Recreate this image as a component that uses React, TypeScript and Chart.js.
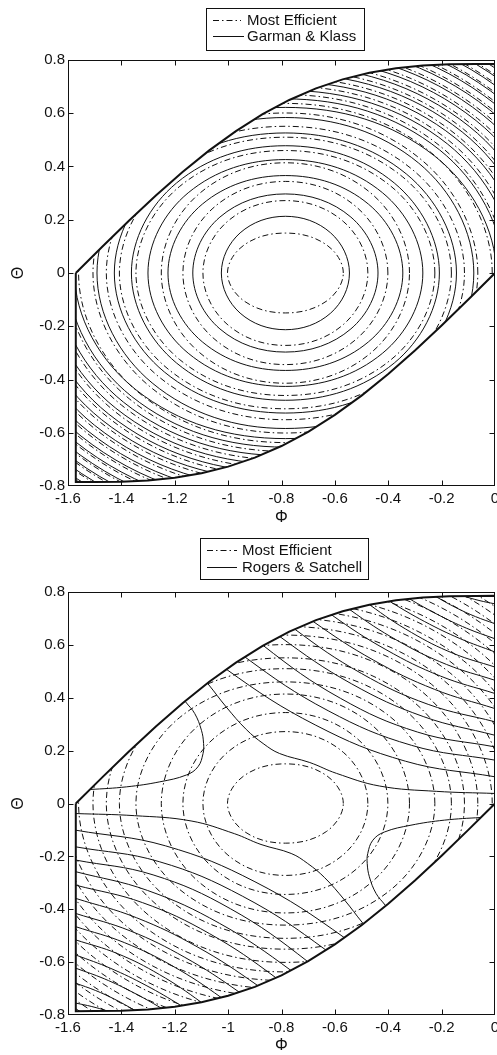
import { useEffect, useRef } from "react";
import { Chart, registerables } from "chart.js";

Chart.register(...registerables);

type Pt = [number, number];

const FONT = "'Liberation Sans', Arial, Helvetica, sans-serif";
const INK = "#111";
const DASH_DOT = [6, 3, 1.5, 3];

// Axis ticks
const PHI_TICKS = [-1.6, -1.4, -1.2, -1, -0.8, -0.6, -0.4, -0.2, 0];
const PHI_TICK_LABELS = ["-1.6", "-1.4", "-1.2", "-1", "-0.8", "-0.6", "-0.4", "-0.2", "0"];
const THETA_TICKS = [-0.8, -0.6, -0.4, -0.2, 0, 0.2, 0.4, 0.6, 0.8];
const THETA_TICK_LABELS = ["-0.8", "-0.6", "-0.4", "-0.2", "0", "0.2", "0.4", "0.6", "0.8"];

// Legend entries
const LEGEND_TOP = ["Most Efficient", "Garman & Klass"];
const LEGEND_BOTTOM = ["Most Efficient", "Rogers & Satchell"];

// Admissible (Φ, Θ) region: upper edge from (−π/2, 0) to (0, π/4), lower edge from (0, 0) to (−π/2, −π/4)
const TOP_EDGE: Pt[] = [
  [-1.5708, 0], [-1.4708, 0.0997], [-1.3708, 0.1974], [-1.2708, 0.2912], [-1.1708, 0.3793],
  [-1.0708, 0.4604], [-0.9708, 0.533], [-0.8708, 0.5964], [-0.7708, 0.6499], [-0.6708, 0.6935],
  [-0.5708, 0.7273], [-0.4708, 0.7521], [-0.3708, 0.7689], [-0.2708, 0.7789], [-0.1708, 0.7837],
  [-0.0708, 0.7853], [0, 0.7854],
];
const BOTTOM_EDGE: Pt[] = [
  [0, 0], [-0.1, -0.0997], [-0.2, -0.1974], [-0.3, -0.2912], [-0.4, -0.3793], [-0.5, -0.4604],
  [-0.6, -0.533], [-0.7, -0.5964], [-0.8, -0.6499], [-0.9, -0.6935], [-1.0, -0.7273], [-1.1, -0.7521],
  [-1.2, -0.7689], [-1.3, -0.7789], [-1.4, -0.7837], [-1.5, -0.7853], [-1.5708, -0.7854],
];
const DOMAIN: Pt[] = [...TOP_EDGE, ...BOTTOM_EDGE];

// Efficiency contours, one quadrant each: Θ = 0 crossing, diagonal point, Φ = −π/4 crossing
const MOST_EFFICIENT: Pt[][] = [
  [[-0.5684, 0], [-0.632, 0.1061], [-0.7854, 0.15]],
  [[-0.4764, 0], [-0.5669, 0.1923], [-0.7854, 0.272]],
  [[-0.4014, 0], [-0.5139, 0.2432], [-0.7854, 0.344]],
  [[-0.3204, 0], [-0.4566, 0.2927], [-0.7854, 0.414]],
  [[-0.2254, 0], [-0.3894, 0.3253], [-0.7854, 0.46]],
  [[-0.1634, 0], [-0.3456, 0.3606], [-0.7854, 0.51]],
  [[-0.1144, 0], [-0.3109, 0.3896], [-0.7854, 0.551]],
  [[-0.0644, 0], [-0.2756, 0.425], [-0.7854, 0.601]],
  [[-0.0104, 0], [-0.2374, 0.4504], [-0.7854, 0.637]],
  [[0.0396, 0], [-0.202, 0.4738], [-0.7854, 0.67]],
  [[0.0826, 0], [-0.1716, 0.4964], [-0.7854, 0.702]],
  [[0.1216, 0], [-0.1441, 0.5183], [-0.7854, 0.733]],
  [[0.1596, 0], [-0.1172, 0.5395], [-0.7854, 0.763]],
  [[0.1966, 0], [-0.091, 0.56], [-0.7854, 0.792]],
  [[0.2326, 0], [-0.0656, 0.5805], [-0.7854, 0.821]],
  [[0.2676, 0], [-0.0408, 0.6003], [-0.7854, 0.849]],
  [[0.3016, 0], [-0.0168, 0.6194], [-0.7854, 0.876]],
  [[0.3346, 0], [0.0066, 0.6378], [-0.7854, 0.902]],
  [[0.3666, 0], [0.0292, 0.6555], [-0.7854, 0.927]],
  [[0.3976, 0], [0.0511, 0.6732], [-0.7854, 0.952]],
  [[0.4286, 0], [0.073, 0.6901], [-0.7854, 0.976]],
  [[0.4586, 0], [0.0942, 0.7071], [-0.7854, 1.0]],
];

const GARMAN_KLASS: Pt[][] = [
  [[-0.5454, 0], [-0.6157, 0.1506], [-0.7854, 0.213]],
  [[-0.4384, 0], [-0.54, 0.21], [-0.7854, 0.297]],
  [[-0.3454, 0], [-0.4743, 0.2588], [-0.7854, 0.366]],
  [[-0.2704, 0], [-0.4212, 0.3012], [-0.7854, 0.426]],
  [[-0.2084, 0], [-0.3774, 0.338], [-0.7854, 0.478]],
  [[-0.1444, 0], [-0.3321, 0.3719], [-0.7854, 0.526]],
  [[-0.0794, 0], [-0.2862, 0.413], [-0.7854, 0.584]],
  [[0.0046, 0], [-0.2268, 0.4398], [-0.7854, 0.622]],
  [[0.0316, 0], [-0.2077, 0.4624], [-0.7854, 0.654]],
  [[0.0726, 0], [-0.1787, 0.4851], [-0.7854, 0.686]],
  [[0.1136, 0], [-0.1497, 0.5077], [-0.7854, 0.718]],
  [[0.1516, 0], [-0.1228, 0.5296], [-0.7854, 0.749]],
  [[0.1886, 0], [-0.0967, 0.5508], [-0.7854, 0.779]],
  [[0.2256, 0], [-0.0705, 0.572], [-0.7854, 0.809]],
  [[0.2626, 0], [-0.0444, 0.5926], [-0.7854, 0.838]],
  [[0.2976, 0], [-0.0196, 0.6124], [-0.7854, 0.866]],
  [[0.3316, 0], [0.0044, 0.6314], [-0.7854, 0.893]],
  [[0.3646, 0], [0.0278, 0.6498], [-0.7854, 0.919]],
  [[0.3956, 0], [0.0497, 0.6675], [-0.7854, 0.944]],
  [[0.4266, 0], [0.0716, 0.6852], [-0.7854, 0.969]],
  [[0.4566, 0], [0.0928, 0.7021], [-0.7854, 0.993]],
];

// Rogers & Satchell contours in the upper half; their partners follow from the point symmetry
const ROGERS_SATCHELL: Pt[][] = [
  [[-0.16, 0.8], [-0.119, 0.785], [-0.06, 0.768], [0, 0.755]],
  [[-0.275, 0.817], [-0.22, 0.782], [-0.1467, 0.741], [-0.0733, 0.707], [0, 0.68]],
  [[-0.4, 0.826], [-0.32, 0.774], [-0.2133, 0.714], [-0.1067, 0.663], [0, 0.623]],
  [[-0.494, 0.831], [-0.395, 0.765], [-0.2633, 0.688], [-0.1317, 0.624], [0, 0.573]],
  [[-0.5875, 0.848], [-0.47, 0.752], [-0.3133, 0.647], [-0.1567, 0.568], [0, 0.516]],
  [[-0.681, 0.843], [-0.545, 0.734], [-0.3633, 0.615], [-0.1817, 0.526], [0, 0.466]],
  [[-0.766, 0.835], [-0.613, 0.714], [-0.4087, 0.582], [-0.2043, 0.482], [0, 0.416]],
  [[-0.8525, 0.823], [-0.682, 0.689], [-0.4547, 0.542], [-0.2273, 0.432], [0, 0.359]],
  [[-0.9388, 0.819], [-0.751, 0.66], [-0.5007, 0.492], [-0.2503, 0.375], [0, 0.309]],
  [[-1.009, 0.801], [-0.807, 0.632], [-0.538, 0.453], [-0.269, 0.329], [0, 0.258]],
  [[-1.086, 0.796], [-0.869, 0.598], [-0.5793, 0.398], [-0.2897, 0.27], [0, 0.214]],
  [[-1.1725, 0.756], [-0.938, 0.555], [-0.6253, 0.351], [-0.3127, 0.22], [0, 0.164]],
  [[-1.259, 0.718], [-1.007, 0.508], [-0.6713, 0.296], [-0.3357, 0.16], [0, 0.101]],
  [[-1.15, 0.54], [-1.075, 0.452], [-1.007, 0.365], [-0.932, 0.28], [-0.869, 0.227], [-0.807, 0.189],
   [-0.694, 0.155], [-0.594, 0.114], [-0.432, 0.066], [-0.22, 0.046], [0, 0.038]],
  [[-1.6, 0.05], [-1.518, 0.053], [-1.381, 0.063], [-1.256, 0.082], [-1.156, 0.108], [-1.113, 0.139],
   [-1.094, 0.189], [-1.092, 0.227], [-1.1, 0.277], [-1.125, 0.34], [-1.159, 0.384], [-1.2, 0.44]],
];

// Symmetries of the variance surfaces about the centre (−π/4, 0)
const HALF_PI = Math.PI / 2;
const pointMirror = ([p, t]: Pt): Pt => [-HALF_PI - p, -t];
const phiMirror = ([p, t]: Pt): Pt => [-HALF_PI - p, t];
const thetaMirror = ([p, t]: Pt): Pt => [p, -t];

const toXY = (pts: Pt[]) => pts.map(([x, y]) => ({ x, y }));

// Close a quadrant into a ring; one extra point on each side keeps the spline smooth at the seam
function ringFromQuadrant([p0, p45, p90]: Pt[]): Pt[] {
  const ring: Pt[] = [p0, p45, p90, phiMirror(p45), phiMirror(p0), pointMirror(p45), thetaMirror(p90), thetaMirror(p45)];
  return [ring[7], ...ring, ring[0], ring[1]];
}

const BASE = {
  showLine: true,
  pointRadius: 0,
  pointHoverRadius: 0,
  borderColor: INK,
  borderWidth: 1,
  fill: false,
};

function loopDataset(q: Pt[], dash: number[]) {
  const pts = ringFromQuadrant(q);
  const last = pts.length - 1;
  return {
    ...BASE,
    data: toXY(pts),
    borderDash: dash,
    tension: 0.375,
    clipToDomain: true,
    segment: {
      borderColor: (c: any) => (c.p0DataIndex === 0 || c.p1DataIndex === last ? "rgba(0,0,0,0)" : undefined),
    },
  };
}

function openDataset(c: Pt[]) {
  return { ...BASE, data: toXY(c), borderDash: [], tension: 0.4, clipToDomain: true };
}

function boundaryDataset() {
  return { ...BASE, data: toXY([...DOMAIN, DOMAIN[0]]), borderWidth: 2, tension: 0, borderDash: [] };
}

const domainClip = {
  id: "domainClip",
  beforeDatasetDraw(chart: any, args: any) {
    const ds = chart.data.datasets[args.index];
    if (!ds.clipToDomain) return;
    const { ctx } = chart;
    const sx = chart.scales.x;
    const sy = chart.scales.y;
    ctx.save();
    ctx.beginPath();
    DOMAIN.forEach(([p, t], i) => {
      const px = sx.getPixelForValue(p);
      const py = sy.getPixelForValue(t);
      if (i === 0) ctx.moveTo(px, py);
      else ctx.lineTo(px, py);
    });
    ctx.closePath();
    ctx.clip();
  },
  afterDatasetDraw(chart: any, args: any) {
    if (chart.data.datasets[args.index].clipToDomain) chart.ctx.restore();
  },
};

type LegendSpec = {
  box: { x: number; y: number; w: number; h: number };
  rows: { y: number; x1: number; x2: number; dash: number[] }[];
  labels: string[];
  textX: number;
};

function framePlugin(legend: LegendSpec) {
  return {
    id: "frame",
    afterDraw(chart: any) {
      const { ctx, chartArea: a } = chart;
      const sx = chart.scales.x;
      const sy = chart.scales.y;
      ctx.save();
      ctx.strokeStyle = INK;
      ctx.lineWidth = 1;
      ctx.setLineDash([]);
      const L = a.left + 0.5;
      const R = a.right - 0.5;
      const T = a.top + 0.5;
      const B = a.bottom - 0.5;
      ctx.strokeRect(L, T, R - L, B - T);
      const len = 5;
      ctx.beginPath();
      PHI_TICKS.forEach((v) => {
        const px = Math.min(Math.round(sx.getPixelForValue(v)) + 0.5, R);
        ctx.moveTo(px, B);
        ctx.lineTo(px, B - len);
        ctx.moveTo(px, T);
        ctx.lineTo(px, T + len);
      });
      THETA_TICKS.forEach((v) => {
        const py = Math.min(Math.round(sy.getPixelForValue(v)) + 0.5, B);
        ctx.moveTo(L, py);
        ctx.lineTo(L + len, py);
        ctx.moveTo(R, py);
        ctx.lineTo(R - len, py);
      });
      ctx.stroke();

      const { box, rows, labels, textX } = legend;
      ctx.fillStyle = "#fff";
      ctx.fillRect(box.x, box.y, box.w, box.h);
      ctx.strokeRect(box.x + 0.5, box.y + 0.5, box.w, box.h);
      ctx.font = `15px ${FONT}`;
      ctx.textBaseline = "middle";
      ctx.textAlign = "left";
      rows.forEach((r, i) => {
        ctx.setLineDash(r.dash);
        ctx.beginPath();
        ctx.moveTo(r.x1, r.y + 0.5);
        ctx.lineTo(r.x2, r.y + 0.5);
        ctx.stroke();
        ctx.setLineDash([]);
        ctx.fillStyle = INK;
        ctx.fillText(labels[i], textX, r.y + 1);
      });
      ctx.restore();
    },
  };
}

type PanelProps = {
  kind: "gk" | "rs";
  height: number;
  top: number;
  axisH: number;
  legend: LegendSpec;
};

function Panel({ kind, height, top, axisH, legend }: PanelProps) {
  const ref = useRef<HTMLCanvasElement>(null);

  useEffect(() => {
    const datasets: any[] = [boundaryDataset()];
    if (kind === "gk") {
      GARMAN_KLASS.forEach((q) => datasets.push(loopDataset(q, [])));
    } else {
      ROGERS_SATCHELL.forEach((c) => {
        datasets.push(openDataset(c));
        datasets.push(openDataset(c.map(pointMirror)));
      });
    }
    MOST_EFFICIENT.forEach((q) => datasets.push(loopDataset(q, DASH_DOT)));

    const tickFont = { family: FONT, size: 15 };
    const titleFont = { family: FONT, size: 16 };

    const chart = new Chart(ref.current as HTMLCanvasElement, {
      type: "scatter",
      data: { datasets },
      options: {
        responsive: false,
        animation: false,
        events: [],
        layout: { padding: { left: 0, right: 2, top, bottom: 0 } },
        plugins: { legend: { display: false }, tooltip: { enabled: false } },
        scales: {
          x: {
            type: "linear",
            min: -1.6,
            max: 0,
            grid: { display: false, drawTicks: false },
            border: { display: false },
            afterBuildTicks: (s: any) => {
              s.ticks = PHI_TICKS.map((value) => ({ value }));
            },
            afterFit: (s: any) => {
              s.height = axisH;
              s.paddingLeft = 0;
              s.paddingRight = 0;
            },
            ticks: {
              autoSkip: false,
              maxRotation: 0,
              padding: 4,
              color: INK,
              font: tickFont,
              callback: (_v: any, i: number) => PHI_TICK_LABELS[i],
            },
            title: { display: true, text: "Φ", color: INK, font: titleFont, padding: { top: 0, bottom: 0 } },
          },
          y: {
            type: "linear",
            min: -0.8,
            max: 0.8,
            grid: { display: false, drawTicks: false },
            border: { display: false },
            afterBuildTicks: (s: any) => {
              s.ticks = THETA_TICKS.map((value) => ({ value }));
            },
            afterFit: (s: any) => {
              s.width = 68;
              s.paddingTop = 0;
              s.paddingBottom = 0;
            },
            ticks: {
              autoSkip: false,
              padding: 3,
              color: INK,
              font: tickFont,
              callback: (_v: any, i: number) => THETA_TICK_LABELS[i],
            },
            title: { display: true, text: "Θ", color: INK, font: titleFont, padding: { top: 9, bottom: 0 } },
          },
        },
      } as any,
      plugins: [domainClip, framePlugin(legend)] as any,
    });
    return () => chart.destroy();
  }, [kind, height, top, axisH, legend]);

  return <canvas ref={ref} width={497} height={height} style={{ display: "block", width: 497, height }} />;
}

const TOP_LEGEND: LegendSpec = {
  box: { x: 206, y: 8, w: 158, h: 42 },
  rows: [
    { y: 20, x1: 213, x2: 241, dash: DASH_DOT },
    { y: 36, x1: 213, x2: 244, dash: [] },
  ],
  labels: LEGEND_TOP,
  textX: 247,
};

const BOTTOM_LEGEND: LegendSpec = {
  box: { x: 200, y: 11, w: 168, h: 41 },
  rows: [
    { y: 23, x1: 207, x2: 237, dash: DASH_DOT },
    { y: 40, x1: 207, x2: 237, dash: [] },
  ],
  labels: LEGEND_BOTTOM,
  textX: 242,
};

export default function App() {
  return (
    <div style={{ position: "absolute", left: 0, top: 0, width: 497, height: 1055, background: "#fff" }}>
      <Panel kind="gk" height={527} top={60} axisH={41} legend={TOP_LEGEND} />
      <Panel kind="rs" height={528} top={65} axisH={40} legend={BOTTOM_LEGEND} />
    </div>
  );
}
